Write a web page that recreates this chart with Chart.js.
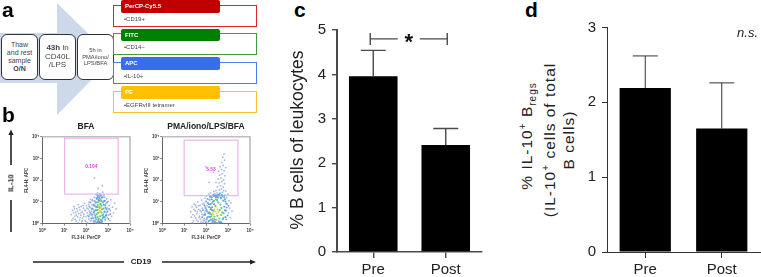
<!DOCTYPE html>
<html>
<head>
<meta charset="utf-8">
<script src="https://cdn.jsdelivr.net/npm/chart.js@4/dist/chart.umd.min.js"></script>
<style>
html,body{margin:0;padding:0;background:#fff;width:761px;height:277px;overflow:hidden;font-family:"Liberation Sans",Arial,sans-serif}
canvas,.t{position:absolute}
.t{white-space:nowrap;line-height:1}
.letter{font-weight:bold;font-size:21px;color:#000}
.rot{transform:translate(-50%,-50%) rotate(-90deg);font-size:17.5px;color:#222}
#soft{position:absolute;left:0;top:0;width:290px;height:277px;filter:blur(.45px)}
.step{position:absolute;top:34px;height:44px;width:35px;border:1.5px solid #333;border-radius:6px;background:#fff;color:#444;text-align:center;display:flex;align-items:center;justify-content:center;line-height:1.12;box-sizing:content-box}
.row{position:absolute;left:113px;width:142px;height:20px;background:#fff;border-width:1.5px;border-style:solid;box-sizing:content-box}
.tag{position:absolute;left:121px;width:99px;height:12.5px;border-radius:2px;color:#fff;font-weight:bold;font-size:6px;line-height:12px;text-indent:4px}
.mk{position:absolute;left:124px;font-size:6px;color:#444}
.head{font-weight:bold;font-size:8.5px;color:#222;transform:translateX(-50%)}
</style>
</head>
<body>
<div id="soft">
 <svg width="290" height="277" style="position:absolute;left:0;top:0">
  <polygon points="0,33 57,33 57,3 113,58 57,115 57,83 0,83" fill="#cdd9ea"/>
  <g stroke="#222" stroke-width="1.6" fill="#222">
   <line x1="11" y1="232" x2="11" y2="200"/>
   <line x1="11" y1="165" x2="11" y2="134"/>
   <polygon points="11,129.5 8.4,135 13.6,135" stroke="none"/>
   <line x1="33" y1="262" x2="124" y2="262"/>
   <line x1="162" y1="262" x2="251" y2="262"/>
   <polygon points="256,262 250,259.4 250,264.6" stroke="none"/>
  </g>
 </svg>
 <div class="step" style="left:1px;font-size:7px"><span>Thaw<br>and rest<br>sample<br><b>O/N</b></span></div>
 <div class="step" style="left:39px;font-size:8px"><span><b>43h</b> in<br>CD40L<br>/LPS</span></div>
 <div class="step" style="left:77px;font-size:5.8px"><span>5h in<br>PMA/iono/<br>LPS/BFA</span></div>

 <div class="row" style="top:5px;border-color:#d62a2a"></div>
 <div class="tag" style="top:0;background:#c00000">PerCP-Cy5.5</div>
 <div class="t mk" style="top:16px">•CD19+</div>
 <div class="row" style="top:33px;border-color:#3f9a3f"></div>
 <div class="tag" style="top:28.5px;background:#008000">FITC</div>
 <div class="t mk" style="top:44px">•CD14−</div>
 <div class="row" style="top:62px;border-color:#4a7df0"></div>
 <div class="tag" style="top:57px;background:#3a6cf0">APC</div>
 <div class="t mk" style="top:73px">•IL-10+</div>
 <div class="row" style="top:91px;border-color:#f5c22c"></div>
 <div class="tag" style="top:86px;background:#ffc000">PE</div>
 <div class="t mk" style="top:101.5px">•EGFRvIII tetramer</div>

 <div class="t head" style="left:86px;top:122px">BFA</div>
 <div class="t head" style="left:206px;top:122px">PMA/iono/LPS/BFA</div>
 <div class="t" style="left:11px;top:183px;font-weight:bold;font-size:7.5px;color:#222;transform:translate(-50%,-50%) rotate(-90deg)">IL-10</div>
 <div class="t" style="left:141px;top:262px;font-weight:bold;font-size:8px;color:#222;transform:translate(-50%,-50%)">CD19</div>

 <canvas id="flowA" width="112" height="110" style="left:23.5px;top:130px"></canvas>
 <canvas id="flowB" width="112" height="110" style="left:144px;top:130px"></canvas>
</div>

<div class="t letter" style="left:2px;top:-1px">a</div>
<div class="t letter" style="left:2px;top:104px">b</div>
<div class="t letter" style="left:294px;top:-1px">c</div>
<div class="t letter" style="left:525px;top:-1px">d</div>

<div class="t rot" style="left:298px;top:140px">% B cells of leukocytes</div>
<div class="t rot" style="left:527px;top:136px;font-size:15.5px;letter-spacing:1px">% IL-10<sup style="font-size:10px;line-height:0">+</sup> B<sub style="font-size:10px;line-height:0">regs</sub></div>
<div class="t rot" style="left:549.5px;top:140px;font-size:15.5px;letter-spacing:1px">(IL-10<sup style="font-size:10px;line-height:0">+</sup> cells of total</div>
<div class="t rot" style="left:568.5px;top:140px;font-size:15.5px;letter-spacing:1px">B cells)</div>

<canvas id="barC" width="180" height="277" style="left:305px;top:0"></canvas>
<canvas id="barD" width="176" height="277" style="left:585px;top:0"></canvas>

<script>
// panels c and d
const groups = ["Pre", "Post"];
const bcellMeans = [3.96, 2.41];
const bcellErrors = [0.58, 0.37];
const bcellTicks = [0, 1, 2, 3, 4, 5];
const bregMeans = [2.19, 1.65];
const bregErrors = [0.43, 0.61];
const bregTicks = [0, 1, 2, 3];
const sigLevel = 4.8;

// panel b, positions in decades (0 to 4 = 10^0 to 10^4)
const decades = [0, 1, 2, 3, 4];
const gateBfa = [1.02, 3.46, 1.36, 3.93];
const gatePma = [1.0, 3.45, 1.29, 3.84];
const gateBfaLabel = "0.104";
const gatePmaLabel = "5.53";

const bfaSparse = [[1.32,.42],[1.38,.61],[1.41,.24],[1.45,.78],[1.49,.35],[1.52,.52],[1.55,.12],[1.58,.69],[1.61,.31],[1.64,.88],[1.66,.47],[1.7,.18],[1.72,.63],[1.75,.39],[1.78,.79],[1.8,.08],[1.83,.55],[1.85,.27],[1.88,.71],[1.9,.44],[1.93,.93],[1.95,.15],[1.97,.6],[2.0,.33],[2.02,.82],[2.05,.5],[2.07,.05],[2.09,.68],[2.12,.22],[2.14,1.0],[2.16,.41],[2.18,.74],
 [1.35,.15],[1.43,.5],[1.47,.68],[1.5,.2],[1.56,.4],[1.6,.58],[1.63,.05],[1.68,.75],[1.73,.28],[1.77,.5],[1.82,.14],[1.86,.84],[1.89,.34],[1.94,.62],[1.99,.1],[2.04,.72],[2.08,.38],[2.11,.9],[2.15,.58],[2.19,.12],
 [2.2,1.12],[2.22,.13],[2.25,.56],[2.27,.87],[2.29,.3],[2.31,1.05],[2.33,.66],[2.35,.07],[2.37,1.21],[2.39,.45],[2.41,.94],[2.43,.2],[2.85,1.22],[2.88,.16],[2.9,.92],[2.92,.5],[2.94,1.14],[2.96,.28],[2.98,.72],[3.0,1.02],[3.02,.4],[3.05,.84],[3.08,.14],[3.1,.6],[3.13,1.1],[3.16,.34],[3.2,.76],[3.25,.5],[3.3,.95],[3.36,.68],
 [2.46,1.33],[2.52,1.42],[2.58,1.28],[2.63,1.38],[2.7,1.3],[2.76,1.45],[2.81,1.3],[2.55,1.62],[2.38,2.1],[2.74,1.75]];
const bfaBlue = [[2.12,.34],[2.15,.8],[2.18,.5],[2.2,.98],[2.23,.24],[2.26,.68],[2.28,1.08],[2.3,.42],[2.33,.12],[2.34,.86],[2.37,.58],[2.4,1.04],[2.42,.28],[2.45,.78],[2.47,1.18],[2.5,.04],[2.53,1.3],[2.56,.14],[2.6,1.18],[2.64,.06],[2.66,1.3],[2.7,1.05],[2.73,.1],[2.76,1.22],[2.78,.3],[2.8,.88],[2.83,.54],[2.85,1.06],[2.87,.2],[2.89,.74],[2.92,.38],[2.95,.98],[2.98,.56],[3.02,.22],[3.05,.68],[3.1,.44]];
const bfaMid = [[2.24,.42],[2.28,.7],[2.32,.25],[2.35,.52],[2.38,.83],[2.4,.12],[2.42,.36],[2.44,.62],[2.46,.98],[2.47,.2],[2.49,.76],[2.5,1.14],[2.52,.08],[2.54,1.22],[2.57,1.08],[2.6,.1],[2.62,1.25],[2.66,1.12],[2.7,.14],[2.72,1.2],[2.75,.24],[2.76,.98],[2.78,.42],[2.8,.7],[2.82,1.04],[2.84,.3],[2.85,.56],[2.87,.84],[2.9,.38],[2.92,.66]];
const bfaGreen = [[2.48,.44],[2.5,.62],[2.52,.3],[2.53,.86],[2.55,.5],[2.56,1.0],[2.58,.22],[2.6,.74],[2.62,1.05],[2.64,.34],[2.66,.9],[2.68,.18],[2.7,.52],[2.7,.82],[2.73,.66],[2.74,.38]];
const bfaYellow = [[2.56,.62],[2.58,.8],[2.6,.52],[2.62,.68],[2.63,.9],[2.65,.58],[2.67,.74]];
const bfaLow = [[2.45,.02],[2.52,.03],[2.6,.02],[2.68,.03]];

const pmaSparse = [[1.3,.55],[1.33,.3],[1.36,.78],[1.4,.42],[1.43,.14],[1.46,.9],[1.5,.6],[1.53,.26],[1.56,.76],[1.58,.46],[1.62,1.0],[1.64,.1],[1.67,.66],[1.7,.34],[1.72,.84],[1.75,.2],[1.78,.54],[1.8,1.08],[1.82,.72],[1.85,.06],[1.87,.4],[1.9,.95],[1.92,.24],[1.95,1.18],[1.97,.6],[2.0,.1],[2.02,1.28],[2.05,.82],[2.08,.04],[2.12,1.36],[2.16,1.12],[2.2,1.42],[2.25,.05],[2.3,1.3],[2.35,1.48],[2.4,1.38],[2.45,1.52],[2.5,1.42],[2.55,.05],[2.6,1.55],[2.65,1.42],[2.7,1.6],[2.75,1.44],[2.8,1.52],[2.85,1.32],[2.9,1.5],[2.94,1.2],[2.97,.9],[3.0,1.36],[3.02,.5],[3.04,1.06],[3.07,.72],[3.1,.28],[3.13,.96],[3.18,.58],
 [1.38,.05],[1.44,.66],[1.48,.36],[1.52,.84],[1.57,.16],[1.6,.56],[1.65,.82],[1.68,.28],[1.73,.6],[1.77,.08],[1.81,.44],[1.84,.9],[1.88,.16],[1.93,.5],[1.96,.78],
 [2.52,1.7],[2.66,1.74],[2.78,1.68],[2.6,1.88],[2.72,1.94],[2.84,1.84],[2.55,2.06],[2.68,2.1],[2.8,2.02],[2.62,2.24],[2.74,2.3],[2.86,2.2],[2.58,2.42],[2.7,2.5],[2.82,2.44],[2.64,2.62],[2.78,2.68],[2.9,2.58],[2.72,2.82],[2.84,2.92],[2.76,3.06],[2.82,3.2],[2.45,1.9],[2.34,2.36],[1.98,2.62],[2.14,1.9]];
const pmaBlue = [[1.82,.3],[1.86,.62],[1.9,.14],[1.92,.84],[1.95,.44],[1.98,.06],[2.0,1.02],[2.02,.64],[2.05,.28],[2.07,1.14],[2.1,.48],[2.13,.9],[2.15,.14],[2.18,1.24],[2.2,.66],[2.23,.34],[2.26,1.12],[2.28,.76],[2.31,.14],[2.33,1.34],[2.36,.9],[2.39,.2],[2.42,1.3],[2.45,1.12],[2.48,.04],[2.5,1.24],[2.55,1.34],[2.58,.12],[2.62,1.38],[2.66,1.2],[2.7,.06],[2.74,1.26],[2.78,.26],[2.82,1.22],[2.85,.62],[2.88,1.02],[2.91,.2],[2.94,.74],[2.98,.38],[3.02,.82]];
const pmaMid = [[1.95,.4],[1.98,.72],[2.02,.2],[2.05,.56],[2.08,.95],[2.1,.32],[2.12,.12],[2.14,.76],[2.16,1.1],[2.18,.46],[2.2,.9],[2.22,.18],[2.25,1.22],[2.27,.62],[2.3,.08],[2.32,1.02],[2.36,1.28],[2.4,.1],[2.44,1.22],[2.48,1.3],[2.54,1.2],[2.6,1.3],[2.65,.08],[2.68,1.18],[2.72,1.32],[2.76,.2],[2.78,1.06],[2.8,.48],[2.83,.78],[2.86,1.12],[2.88,.3],[2.9,.6],[2.92,.92]];
const pmaGreen = [[2.15,.52],[2.18,.3],[2.22,.72],[2.25,.42],[2.28,.94],[2.3,.22],[2.34,.6],[2.36,1.05],[2.38,.32],[2.42,.82],[2.46,.18],[2.5,1.08],[2.52,.36],[2.56,.98],[2.6,.24],[2.62,.62],[2.65,.88],[2.68,.4],[2.7,.72],[2.74,.52]];
const pmaYellow = [[2.3,.5],[2.34,.42],[2.38,.66],[2.42,.56],[2.45,.78],[2.48,.46],[2.52,.66],[2.56,.54]];
const pmaLow = [[2.3,.02],[2.4,.03],[2.5,.02],[2.6,.03]];

const axisFont = {family:'"Liberation Sans",Arial,sans-serif', size:15};

// draws the error whiskers and the significance bracket or note
const barExtras = {
 id:"barExtras",
 afterDatasetsDraw(chart, args, opts){
  const {ctx, scales:{x,y}} = chart;
  ctx.save();
  ctx.strokeStyle = opts.color;
  ctx.lineWidth = opts.lineWidth;
  chart.data.datasets[0].data.forEach((v,i)=>{
   const cx = x.getPixelForValue(i);
   const top = y.getPixelForValue(v+opts.errors[i]);
   ctx.beginPath();
   ctx.moveTo(cx, y.getPixelForValue(v));
   ctx.lineTo(cx, top);
   ctx.moveTo(cx-opts.cap, top);
   ctx.lineTo(cx+opts.cap, top);
   ctx.stroke();
  });
  if(opts.sig){
   const yy = y.getPixelForValue(opts.sig);
   const a = x.getPixelForValue(0)-3, b = x.getPixelForValue(1)+1.5;
   const mid = (a+b)/2;
   ctx.beginPath();
   ctx.moveTo(a,yy-6); ctx.lineTo(a,yy+6);
   ctx.moveTo(a,yy); ctx.lineTo(mid-11,yy);
   ctx.moveTo(mid+11,yy); ctx.lineTo(b,yy);
   ctx.moveTo(b,yy-6); ctx.lineTo(b,yy+6);
   ctx.stroke();
   ctx.fillStyle = "#111";
   ctx.font = 'bold 22px "Liberation Sans",Arial,sans-serif';
   ctx.textAlign = "center";
   ctx.textBaseline = "middle";
   ctx.fillText("*", mid, yy+4);
  }
  if(opts.note){
   ctx.fillStyle = "#222";
   ctx.font = 'italic 13px "Liberation Sans",Arial,sans-serif';
   ctx.textAlign = "right";
   ctx.textBaseline = "middle";
   ctx.fillText(opts.note, chart.width-3, y.getPixelForValue(opts.noteAt));
  }
  ctx.restore();
 }
};

function barChart(id, means, errors, ticks, extras, geo){
 return new Chart(document.getElementById(id),{
  type:"bar",
  data:{labels:groups, datasets:[{data:means, backgroundColor:"#000", barPercentage:.67, categoryPercentage:1}]},
  plugins:[barExtras],
  options:{
   responsive:false, animation:false, devicePixelRatio:1,
   layout:{padding:{top:geo.top, right:geo.right, left:0, bottom:0}},
   plugins:{legend:{display:false}, tooltip:{enabled:false},
    barExtras:Object.assign({errors:errors, color:geo.color, lineWidth:geo.line, cap:12.5}, extras)},
   scales:{
    x:{
     grid:{drawOnChartArea:false, offset:false, color:geo.color, tickLength:6, lineWidth:geo.line},
     border:{color:geo.color, width:geo.line},
     ticks:{color:"#222", font:axisFont, padding:3, maxRotation:0},
     afterFit(s){s.height=25}
    },
    y:{
     min:ticks[0], max:ticks[ticks.length-1],
     afterBuildTicks(s){s.ticks=ticks.map(v=>({value:v}))},
     grid:{drawOnChartArea:false, color:geo.color, tickLength:5, lineWidth:geo.line},
     border:{color:geo.color, width:geo.axisLine},
     ticks:{color:"#222", font:axisFont, padding:6},
     afterFit(s){s.width=geo.axis}
    }
   }
  }
 });
}

barChart("barC", bcellMeans, bcellErrors, bcellTicks, {sig:sigLevel},
 {top:30, right:3, axis:32, color:"#4a4a4a", line:1.4, axisLine:2});
barChart("barD", bregMeans, bregErrors, bregTicks, {note:"n.s.", noteAt:2.92},
 {top:27.5, right:1, axis:22, color:"#333", line:1, axisLine:1});

// gate rectangle, gate label and the grey top and right frame
const flowExtras = {
 id:"flowExtras",
 beforeDatasetsDraw(chart, args, opts){
  const {ctx, chartArea:c, scales:{x,y}} = chart;
  ctx.save();
  ctx.strokeStyle = "#bdbdbd";
  ctx.lineWidth = 1.6;
  ctx.beginPath();
  ctx.moveTo(c.left,c.top); ctx.lineTo(c.right,c.top); ctx.lineTo(c.right,c.bottom);
  ctx.stroke();
  ctx.strokeStyle = "#eeb4ea";
  ctx.lineWidth = 1.2;
  const [x0,x1,y0,y1] = opts.gate;
  ctx.strokeRect(x.getPixelForValue(x0), y.getPixelForValue(y1),
   x.getPixelForValue(x1)-x.getPixelForValue(x0), y.getPixelForValue(y0)-y.getPixelForValue(y1));
  ctx.fillStyle = "#e040d8";
  ctx.font = 'bold 4.8px "Liberation Sans",Arial,sans-serif';
  ctx.textAlign = "center";
  ctx.textBaseline = "middle";
  ctx.fillText(opts.label, x.getPixelForValue((x0+x1)/2), y.getPixelForValue(opts.labelAt));
  ctx.restore();
 }
};

const supers = "⁰¹²³⁴";
const smallFont = {family:'"Liberation Sans",Arial,sans-serif', size:4.5, weight:"bold"};

function flowChart(id, layers, gate, label, labelAt){
 const colours = ["#a4b6e4", "#6f8fd6", "#58b4dc", "#6cc878", "#e6dc58", "#d86060"];
 return new Chart(document.getElementById(id),{
  type:"scatter",
  data:{datasets:layers.map((pts,i)=>({
   data:pts.map(p=>({x:p[0], y:p[1]})),
   backgroundColor:colours[i], borderWidth:0, pointRadius:i<2?.9:1.1
  }))},
  plugins:[flowExtras],
  options:{
   responsive:false, animation:false, devicePixelRatio:1,
   layout:{padding:{top:6.7, right:6, left:0, bottom:0}},
   plugins:{legend:{display:false}, tooltip:{enabled:false},
    flowExtras:{gate:gate, label:label, labelAt:labelAt}},
   scales:{
    x:{
     type:"linear", min:0, max:4,
     afterBuildTicks(s){s.ticks=decades.map(v=>({value:v}))},
     grid:{drawOnChartArea:false, color:"#555", tickLength:2, lineWidth:.7},
     border:{color:"#666", width:1},
     ticks:{color:"#333", font:smallFont, padding:2, maxRotation:0, callback:v=>"10"+supers[v]},
     title:{display:true, text:"FL3-H: PerCP", color:"#333", font:smallFont, padding:{top:0,bottom:0}},
     afterFit(s){s.height=16.3}
    },
    y:{
     type:"linear", min:0, max:4,
     afterBuildTicks(s){s.ticks=decades.map(v=>({value:v}))},
     grid:{drawOnChartArea:false, color:"#555", tickLength:2, lineWidth:.7},
     border:{color:"#666", width:1},
     ticks:{color:"#333", font:smallFont, padding:1, callback:v=>"10"+supers[v]},
     title:{display:true, text:"FL4-H: APC", color:"#333", font:smallFont, padding:{top:0,bottom:0}},
     afterFit(s){s.width=18.2}
    }
   }
  }
 });
}

flowChart("flowA", [bfaSparse,bfaBlue,bfaMid,bfaGreen,bfaYellow,bfaLow], gateBfa, gateBfaLabel, 2.63);
flowChart("flowB", [pmaSparse,pmaBlue,pmaMid,pmaGreen,pmaYellow,pmaLow], gatePma, gatePmaLabel, 2.5);
</script>
</body>
</html>
